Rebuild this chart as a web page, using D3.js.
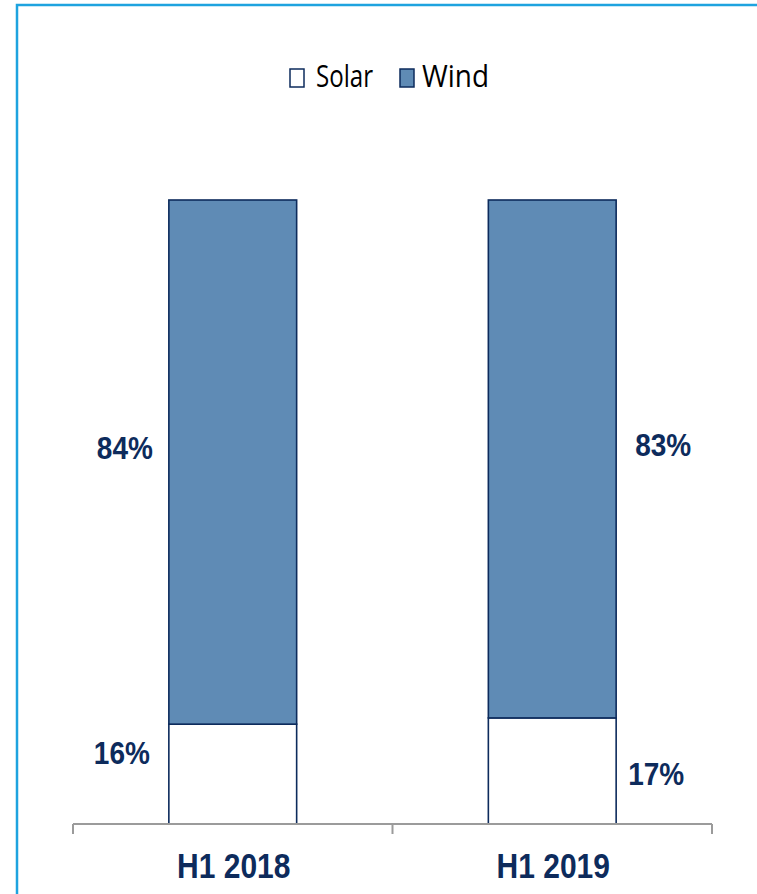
<!DOCTYPE html>
<html>
<head>
<meta charset="utf-8">
<script src="https://cdn.jsdelivr.net/npm/d3@7"></script>
<style>
  html, body { margin: 0; padding: 0; background: #ffffff; }
  svg { display: block; }
</style>
</head>
<body>
<div id="chart"></div>
<script>
// Share of new capacity by technology, H1 2018 vs H1 2019
const periods = ["H1 2018", "H1 2019"];
const solarShare = [16, 17];
const windShare = [84, 83];
const seriesNames = ["Solar", "Wind"];

const W = 757, H = 894;
const navy = "#0d2b5c";
const windFill = "#5f8bb5";
const boldFont = "'Liberation Sans', Arial, sans-serif";

const svg = d3.select("#chart").append("svg")
  .attr("width", W).attr("height", H);

// light blue frame
svg.append("path")
  .attr("d", `M17,${H + 5} L17,5 L${W + 5},5`)
  .attr("fill", "none")
  .attr("stroke", "#1ea3df")
  .attr("stroke-width", 2.5);

const x = d3.scaleBand().domain(periods).range([73, 712]).padding(0);
const y = d3.scaleLinear().domain([0, 100]).range([824, 200]);
const barW = x.bandwidth() * 0.4;

const rows = periods.map((p, i) => ({
  period: p,
  solar: solarShare[i],
  wind: windShare[i]
}));
const stacked = d3.stack().keys(["solar", "wind"])(rows);
const fills = { solar: "#ffffff", wind: windFill };

const g = svg.append("g");
stacked.forEach(layer => {
  g.selectAll(null).data(layer).join("rect")
    .attr("x", d => x(d.data.period) + (x.bandwidth() - barW) / 2)
    .attr("y", d => y(d[1]))
    .attr("width", barW)
    .attr("height", d => y(d[0]) - y(d[1]))
    .attr("fill", fills[layer.key])
    .attr("stroke", navy)
    .attr("stroke-width", 1.6);
});

// category axis
const axis = svg.append("g")
  .attr("transform", `translate(0,${y(0)})`)
  .call(d3.axisBottom(x).tickSize(0).tickFormat(""));
axis.select(".domain").remove();
axis.selectAll(".tick").remove();
axis.append("line")
  .attr("x1", 73).attr("x2", 712).attr("y1", 0).attr("y2", 0)
  .attr("stroke", "#9b9b9b").attr("stroke-width", 2);
const edges = [x.range()[0]].concat(periods.map(p => x(p) + x.bandwidth()));
axis.selectAll(".edge").data(edges).join("line")
  .attr("class", "edge")
  .attr("x1", d => d).attr("x2", d => d)
  .attr("y1", 0).attr("y2", 10)
  .attr("stroke", "#9b9b9b").attr("stroke-width", 2);
axis.selectAll(".cat").data(periods).join("text")
  .attr("class", "cat")
  .attr("transform", d => `translate(${x(d) + x.bandwidth() / 2 + 1},54) scale(1,1.16)`)
  .attr("text-anchor", "middle")
  .attr("font-family", boldFont)
  .attr("font-weight", "bold")
  .attr("font-size", 30)
  .attr("fill", navy)
  .text(d => d);

// value labels beside the bars
const labels = [];
rows.forEach((r, i) => {
  const left = i === 0;
  const cx = x(r.period) + x.bandwidth() / 2;
  labels.push({ v: r.wind, lo: r.solar, hi: 100, left, cx, dy: -3, gap: left ? 16 : 19 });
  labels.push({ v: r.solar, lo: 0, hi: r.solar, left, cx, dy: left ? -10 : 14, gap: left ? 19 : 12 });
});
svg.selectAll(".val").data(labels).join("text")
  .attr("class", "val")
  .attr("transform", d => {
    const tx = d.left ? d.cx - barW / 2 - d.gap : d.cx + barW / 2 + d.gap;
    const ty = (y(d.lo) + y(d.hi)) / 2 + d.dy;
    return `translate(${tx},${ty}) scale(1,1.12)`;
  })
  .attr("text-anchor", d => d.left ? "end" : "start")
  .attr("font-family", boldFont)
  .attr("font-weight", "bold")
  .attr("font-size", 28)
  .attr("fill", navy)
  .text(d => d.v + "%");

// legend
const legendX = [290, 400];
const legendTextX = [316, 422];
const legendTextW = [57, 67];
const leg = svg.append("g");
seriesNames.forEach((name, i) => {
  leg.append("rect")
    .attr("x", legendX[i]).attr("y", 69)
    .attr("width", 14).attr("height", 18)
    .attr("fill", i === 0 ? "#ffffff" : windFill)
    .attr("stroke", navy).attr("stroke-width", 1.5);
  leg.append("text")
    .attr("transform", `translate(${legendTextX[i]},87) scale(1,1.18)`)
    .attr("font-family", "'Open Sans', sans-serif")
    .attr("font-size", 26)
    .attr("textLength", legendTextW[i])
    .attr("lengthAdjust", "spacingAndGlyphs")
    .attr("fill", "#000000")
    .text(name);
});
</script>
</body>
</html>
